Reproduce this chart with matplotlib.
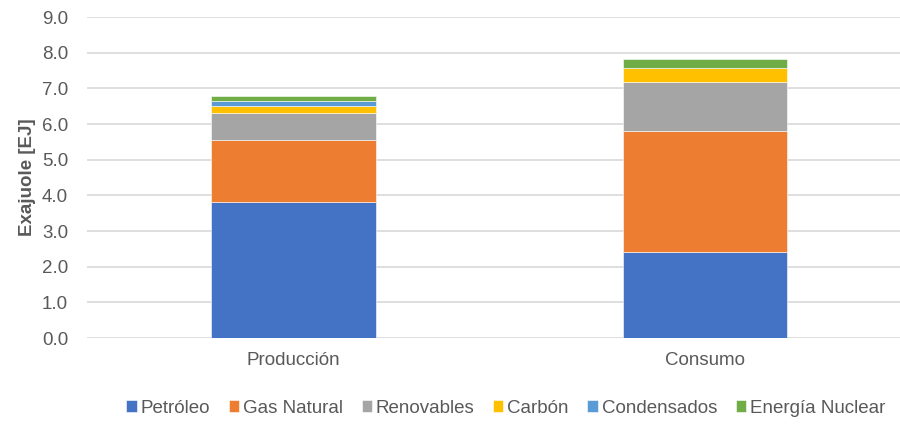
import matplotlib.pyplot as plt
import numpy as np

plt.rcParams['font.family'] = ['Liberation Sans', 'DejaVu Sans']

# === Datos (EJ) ===
categorias = ["Producción", "Consumo"]
fuentes = ["Petróleo", "Gas Natural", "Renovables", "Carbón", "Condensados", "Energía Nuclear"]
petroleo = [3.81, 2.41]
gas_natural = [1.74, 3.39]
renovables = [0.76, 1.38]
carbon = [0.20, 0.40]
condensados = [0.13, 0.00]
nuclear = [0.14, 0.23]
colores = ["#4472C4", "#ED7D31", "#A5A5A5", "#FFC000", "#5B9BD5", "#70AD47"]

series = [petroleo, gas_natural, renovables, carbon, condensados, nuclear]

fig = plt.figure(figsize=(9, 4.25), dpi=100)
ax = fig.add_axes([0.0972, 0.2047, 0.915, 0.7553])

x = np.arange(len(categorias))
base = np.zeros(len(categorias))
for nombre, valores, color in zip(fuentes, series, colores):
    ax.bar(x, valores, width=0.40, bottom=base, color=color, label=nombre,
           edgecolor="white", linewidth=0.4, zorder=3)
    base += np.array(valores)

ax.set_xlim(-0.5, 1.5)
ax.set_ylim(0, 9)
ax.set_yticks(np.arange(0, 9.5, 1.0))
ax.set_yticklabels([f"{v:.1f}" for v in np.arange(0, 9.5, 1.0)])
ax.set_xticks(x)
ax.set_xticklabels(categorias)
ax.grid(axis="y", color="#D9D9D9", linewidth=1.2, zorder=0)
for s in ax.spines.values():
    s.set_visible(False)
ax.tick_params(length=0, colors="#595959", labelsize=13.5)
ax.tick_params(axis="y", pad=14)
ax.tick_params(axis="x", pad=10)

ax.set_ylabel("Exajuole [EJ]", fontsize=13.5, fontweight="bold", color="#595959", labelpad=4)

leg = fig.legend(loc="lower center", bbox_to_anchor=(0.562, -0.02), ncol=6, frameon=False,
                 fontsize=13.5, handlelength=0.55, handleheight=0.55, handletextpad=0.2,
                 columnspacing=1.0, labelcolor="#595959")

plt.savefig("out.png", dpi=100)
